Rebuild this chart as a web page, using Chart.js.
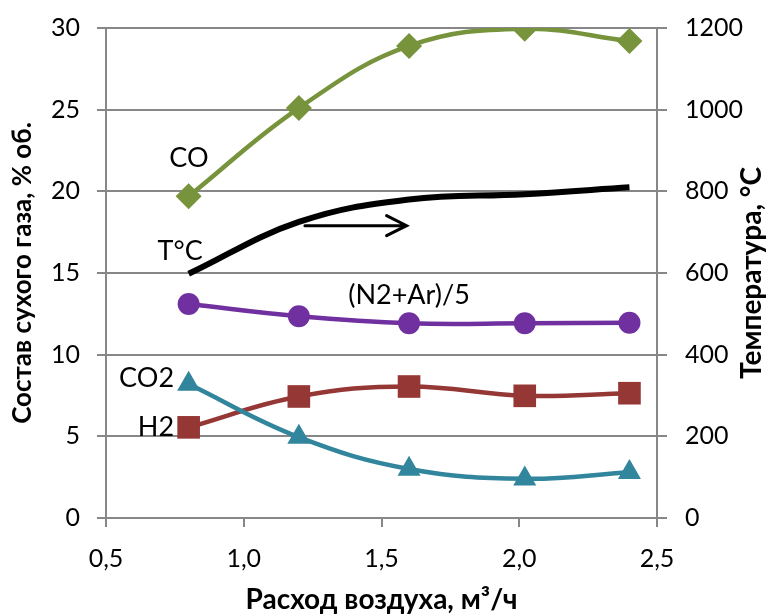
<!DOCTYPE html>
<html>
<head>
<meta charset="utf-8">
<script src="https://cdn.jsdelivr.net/npm/chart.js@4"></script>
<style>
  html, body { margin: 0; padding: 0; background: #fff; }
  #wrap { width: 766px; height: 614px; position: relative; }
</style>
</head>
<body>
<div id="wrap"><canvas id="chart"></canvas></div>
<script>
const fontFamily = "Lato, 'Open Sans', sans-serif";
const gridColor = '#878787';

// air flow, m3/h
const airFlow = [0.8, 1.2, 1.6, 2.02, 2.4];

// dry gas composition, % vol
const coValues  = [19.7, 25.1, 28.9, 29.95, 29.2];
const n2ArValues = [13.1, 12.35, 11.92, 11.92, 11.96];
const h2Values  = [5.55, 7.44, 8.05, 7.48, 7.64];
const co2Values = [8.2, 4.95, 3.0, 2.4, 2.8];

// temperature, °C (right axis)
const tempValues = [598, 725, 780, 793, 810];

const xTicks = [0.5, 1.0, 1.5, 2.0, 2.5];
const leftTicks = [0, 5, 10, 15, 20, 25, 30];
const rightTicks = [0, 200, 400, 600, 800, 1000, 1200];

const colors = {
  co: '#77933c',
  n2ar: '#7030a0',
  h2: '#953735',
  co2: '#31859c',
  temp: '#000000',
};

// series captions placed in data coordinates of the left axis
const captions = [
  { text: 'CO',        x: 0.801, y: 22.0,  align: 'center' },
  { text: 'T°C',       x: 0.769, y: 16.35, align: 'center' },
  { text: '(N2+Ar)/5', x: 1.60,  y: 13.65, align: 'center' },
  { text: 'CO2',       x: 0.747, y: 8.56,  align: 'right' },
  { text: 'H2',        x: 0.747, y: 5.54,  align: 'right' },
];
// arrow showing the temperature curve belongs to the right axis
const arrow = { from: 1.222, to: 1.591, y: 17.9 };

const toPoints = (ys) => ys.map((y, i) => ({ x: airFlow[i], y }));

function makeLine(label, data, color, opts = {}) {
  return {
    label,
    data: toPoints(data),
    yAxisID: opts.axis || 'y',
    borderColor: color,
    backgroundColor: color,
    borderWidth: opts.width || 4.5,
    tension: 0.4,
    pointStyle: opts.point || 'circle',
    pointRadius: opts.radius === undefined ? 11 : opts.radius,
    pointBorderWidth: 0,
    pointHoverRadius: opts.radius === undefined ? 11 : opts.radius,
  };
}

const annotate = {
  id: 'annotate',
  afterDatasetsDraw(chart) {
    const { ctx, scales, chartArea } = chart;
    const xs = scales.x, ys = scales.y;
    ctx.save();
    ctx.fillStyle = '#000';
    ctx.font = '27px ' + fontFamily;
    ctx.textBaseline = 'middle';
    captions.forEach(c => {
      ctx.textAlign = c.align;
      ctx.fillText(c.text, xs.getPixelForValue(c.x), ys.getPixelForValue(c.y));
    });

    const x0 = xs.getPixelForValue(arrow.from);
    const x1 = xs.getPixelForValue(arrow.to);
    const ay = ys.getPixelForValue(arrow.y);
    ctx.strokeStyle = '#000';
    ctx.lineWidth = 3;
    ctx.lineCap = 'round';
    ctx.beginPath();
    ctx.moveTo(x0, ay);
    ctx.lineTo(x1, ay);
    ctx.moveTo(x1 - 20, ay - 10);
    ctx.lineTo(x1, ay);
    ctx.lineTo(x1 - 20, ay + 10);
    ctx.stroke();

    // right axis title reads bottom-to-top like the left one
    ctx.translate(chart.width - 14, (chartArea.top + chartArea.bottom) / 2);
    ctx.rotate(-Math.PI / 2);
    ctx.textAlign = 'center';
    ctx.font = 'bold 28px ' + fontFamily;
    ctx.fillText('Температура, °С', 0, 0);
    ctx.restore();
  },
};

new Chart(document.getElementById('chart'), {
  type: 'line',
  data: {
    datasets: [
      makeLine('CO2', co2Values, colors.co2, { point: 'triangle', radius: 13.3 }),
      makeLine('H2', h2Values, colors.h2, { point: 'rect', radius: 16 }),
      makeLine('(N2+Ar)/5', n2ArValues, colors.n2ar, { point: 'circle', radius: 11 }),
      makeLine('T°C', tempValues, colors.temp, { axis: 'y1', radius: 0, width: 6 }),
      makeLine('CO', coValues, colors.co, { point: 'rectRot', radius: 13 }),
    ],
  },
  options: {
    responsive: true,
    maintainAspectRatio: false,
    animation: false,
    layout: { padding: { top: 28, left: 0, right: 0, bottom: 0 } },
    plugins: {
      legend: { display: false },
      tooltip: { enabled: false },
    },
    scales: {
      x: {
        type: 'linear',
        min: 0.5,
        max: 2.5,
        afterBuildTicks: s => { s.ticks = xTicks.map(v => ({ value: v })); },
        afterFit: s => { s.height = 96; },
        ticks: {
          color: '#000',
          font: { family: fontFamily, size: 25 },
          padding: 17,
          maxRotation: 0,
          callback: v => v.toFixed(1).replace('.', ','),
        },
        grid: { drawOnChartArea: false, drawTicks: true, tickLength: 9, color: gridColor, lineWidth: 2 },
        border: { color: gridColor, width: 2 },
        title: {
          display: true,
          text: 'Расход воздуха, м³/ч',
          color: '#000',
          font: { family: fontFamily, size: 28, weight: 'bold', lineHeight: 1 },
          padding: { top: 0, bottom: 0 },
        },
      },
      y: {
        position: 'left',
        min: 0,
        max: 30,
        afterBuildTicks: s => { s.ticks = leftTicks.map(v => ({ value: v })); },
        afterFit: s => { s.width = 106; s.paddingTop = 0; },
        ticks: {
          color: '#000',
          font: { family: fontFamily, size: 25 },
          padding: 17,
          callback: v => String(v),
        },
        grid: { color: gridColor, lineWidth: 2, tickLength: 9 },
        border: { color: gridColor, width: 2 },
        title: {
          display: true,
          text: 'Состав сухого газа, % об.',
          color: '#000',
          font: { family: fontFamily, size: 26, weight: 'bold', lineHeight: 1 },
          padding: { top: 10, bottom: 0 },
        },
      },
      y1: {
        position: 'right',
        min: 0,
        max: 1200,
        afterBuildTicks: s => { s.ticks = rightTicks.map(v => ({ value: v })); },
        afterFit: s => { s.width = 109; s.paddingTop = 0; },
        ticks: {
          color: '#000',
          font: { family: fontFamily, size: 25 },
          padding: 18,
          callback: v => String(v),
        },
        grid: { drawOnChartArea: false, color: gridColor, lineWidth: 2, tickLength: 10 },
        border: { color: gridColor, width: 2 },
      },
    },
  },
  plugins: [annotate],
});
</script>
</body>
</html>
